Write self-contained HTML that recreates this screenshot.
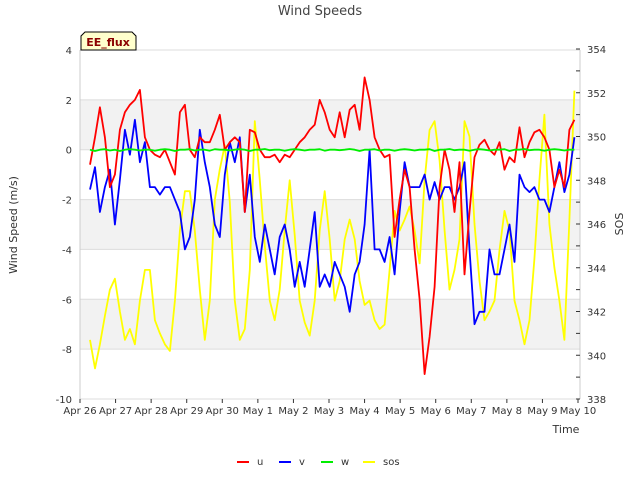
<!DOCTYPE html>
<html><head><meta charset="utf-8"><style>
body{margin:0;background:#fff;font-family:"Liberation Sans","DejaVu Sans",sans-serif;}
</style></head><body>
<svg id="chart" width="640" height="480" xmlns="http://www.w3.org/2000/svg" font-family="DejaVu Sans, Liberation Sans, sans-serif">
<rect width="640" height="480" fill="#fff"/>
<g id="bands"></g>
<g id="axes"></g>
<g id="series"></g>
<text x="320" y="15" text-anchor="middle" font-size="13" fill="#444">Wind Speeds</text>
<text transform="translate(17,225) rotate(-90)" text-anchor="middle" font-size="11" fill="#333">Wind Speed (m/s)</text>
<text transform="translate(623,224) rotate(-90)" text-anchor="middle" font-size="11" fill="#333">SOS</text>
<text x="566" y="433" text-anchor="middle" font-size="11" fill="#333">Time</text>
<g>
<path d="M81,50 L81,36 L85,32 L132,32 L136,36 L136,50 Z" fill="#ffffcc" stroke="#000" stroke-width="1"/>
<text x="108" y="46" text-anchor="middle" font-size="11" font-weight="bold" fill="#8b0000">EE_flux</text>
</g>
<g id="legend"></g>
</svg>
<script>
const dayLabels=["Apr 26","Apr 27","Apr 28","Apr 29","Apr 30","May 1","May 2","May 3","May 4","May 5","May 6","May 7","May 8","May 9","May 10"];
const leftTicks=[4,2,0,-2,-4,-6,-8,-10];
const rightTicks=[338,340,342,344,346,348,350,352,354];
const tStart=0.28, tStep=0.1404;
const uVals=[-0.6,0.5,1.7,0.5,-1.5,-1.0,0.8,1.5,1.8,2.0,2.4,0.5,0.0,-0.2,-0.3,0.0,-0.5,-1.0,1.5,1.8,0.0,-0.3,0.5,0.3,0.3,0.8,1.4,0.0,0.3,0.5,0.3,-2.5,0.8,0.7,0.0,-0.3,-0.3,-0.2,-0.5,-0.2,-0.3,0.0,0.3,0.5,0.8,1.0,2.0,1.5,0.8,0.5,1.5,0.5,1.6,1.8,0.8,2.9,2.0,0.5,0.0,-0.3,-0.2,-3.5,-2.0,-0.8,-1.5,-4.0,-6.0,-9.0,-7.5,-5.5,-1.5,0.0,-0.8,-2.5,-0.5,-5.0,-2.5,-0.3,0.2,0.4,0.0,-0.2,0.3,-0.8,-0.3,-0.5,0.9,-0.3,0.3,0.7,0.8,0.5,0.0,-1.5,-0.8,-1.5,0.8,1.2];
const vVals=[-1.6,-0.7,-2.5,-1.5,-0.8,-3.0,-1.2,0.8,-0.2,1.2,-0.5,0.3,-1.5,-1.5,-1.8,-1.5,-1.5,-2.0,-2.5,-4.0,-3.5,-2.0,0.8,-0.5,-1.5,-3.0,-3.5,-1.0,0.3,-0.5,0.5,-2.5,-1.0,-3.5,-4.5,-3.0,-4.0,-5.0,-3.5,-3.0,-4.0,-5.5,-4.5,-5.5,-4.0,-2.5,-5.5,-5.0,-5.5,-4.5,-5.0,-5.5,-6.5,-5.0,-4.5,-3.0,0.0,-4.0,-4.0,-4.5,-3.5,-5.0,-2.5,-0.5,-1.5,-1.5,-1.5,-1.0,-2.0,-1.3,-2.0,-1.5,-1.5,-2.0,-1.5,-0.5,-4.0,-7.0,-6.5,-6.5,-4.0,-5.0,-5.0,-4.0,-3.0,-4.5,-1.0,-1.5,-1.7,-1.5,-2.0,-2.0,-2.5,-1.5,-0.5,-1.7,-1.0,0.5];
const wVals=[0,-0.05,0,0.02,-0.03,0,-0.05,0,0.02,0,-0.03,0,0,-0.04,0,0.02,0,-0.05,0,0,0.02,-0.03,0,0,-0.04,0.02,0,0,-0.03,0,0.02,0,-0.05,0,0,0.03,-0.02,0,0,-0.04,0,0.02,0,-0.03,0,0,0.02,-0.04,0,0,-0.02,0,0.03,0,-0.05,0,0,0.02,-0.03,0,0,-0.04,0,0.02,0,-0.03,0,0,0.02,-0.05,0,0,0.03,-0.02,0,0,-0.04,0,0.02,0,-0.03,0,0,0.02,-0.05,0,0,0.03,-0.02,0,0,-0.04,0,0.02,0,-0.03,0,0];
const sosVals=[340.7,339.4,340.5,341.8,343.0,343.5,342.0,340.7,341.2,340.5,342.5,343.9,343.9,341.6,341.0,340.5,340.2,342.5,345.7,347.5,347.5,345.7,343.0,340.7,342.5,347.1,348.5,349.6,347.0,342.5,340.7,341.2,343.9,350.7,348.0,345.0,342.5,341.6,343.0,345.7,348.0,345.5,342.5,341.5,340.9,342.5,345.7,347.5,345.3,342.5,343.4,345.3,346.2,345.3,343.4,342.3,342.5,341.6,341.2,341.4,343.9,346.6,345.7,346.2,346.8,345.7,344.2,348.0,350.3,350.7,348.9,345.7,343.0,343.9,345.3,350.7,350.0,346.0,343.4,341.6,342.0,342.5,344.8,346.6,345.7,342.5,341.6,340.5,341.6,344.4,348.0,351.0,346.0,344.0,342.5,340.7,346.2,352.1];

const NS="http://www.w3.org/2000/svg";
const X0=80,X1=578,Y0=50,Y1=399;
const xs=t=>X0+(X1-X0)*t/14;
const yL=v=>Y0+(4-v)*(Y1-Y0)/14;
const yR=v=>49+(354-v)*(399-49)/16;
function mk(tag,attrs,parent){const e=document.createElementNS(NS,tag);for(const k in attrs)e.setAttribute(k,attrs[k]);parent.appendChild(e);return e;}
const bands=document.getElementById('bands'),axes=document.getElementById('axes'),series=document.getElementById('series'),legend=document.getElementById('legend');
mk('rect',{x:X0,y:Y0,width:X1-X0+2,height:Y1-Y0,fill:'#fff'},bands);
[[2,0],[-2,-4],[-6,-8]].forEach(b=>{const r=mk('rect',{x:X0,y:yL(b[0]),width:X1-X0+2,height:yL(b[1])-yL(b[0]),fill:'#f2f2f2'},bands);

});
leftTicks.forEach(v=>{mk('line',{x1:X0,x2:X1+2,y1:yL(v),y2:yL(v),stroke:'#dcdcdc','stroke-width':1},bands);
const t=mk('text',{x:X0-8,y:yL(v)+4,'text-anchor':'end','font-size':10,fill:'#333'},axes);t.textContent=v;

});
mk('line',{x1:X0,x2:X0,y1:Y0,y2:Y1,stroke:'#ccc'},axes);
mk('line',{x1:X1+2,x2:X1+2,y1:Y0,y2:Y1,stroke:'#ccc'},axes);
for(let v=338;v<=354;v++){mk('line',{x1:X1-2,x2:X1+2,y1:yR(v),y2:yR(v),stroke:'#333'},axes);}
rightTicks.forEach(v=>{const t=mk('text',{x:X1+9,y:yR(v)+4,'font-size':10,fill:'#333'},axes);t.textContent=v;

});
dayLabels.forEach((d,i)=>{mk('line',{x1:xs(i),x2:xs(i),y1:Y1,y2:Y1+4,stroke:'#333'},axes);
const t=mk('text',{x:xs(i),y:Y1+15,'text-anchor':'middle','font-size':10,fill:'#333'},axes);t.textContent=d;

});
function line(vals,yf,color,name){const pts=vals.map((v,i)=>xs(tStart+i*tStep).toFixed(1)+','+yf(v).toFixed(1)).join(' ');
const p=mk('polyline',{points:pts,fill:'none',stroke:color,'stroke-width':1.8,'stroke-linejoin':'round'},series);

}
line(sosVals,yR,'#ffff00','sos-line');
line(vVals,yL,'#0000ff','v-line');
line(uVals,yL,'#ff0000','u-line');
line(wVals,yL,'#00ee00','w-line');
[['u','#ff0000',237],['v','#0000ff',279],['w','#00ee00',321],['sos','#ffff00',363]].forEach(e=>{
const g=mk('g',{},legend);


mk('line',{x1:e[2],x2:e[2]+12,y1:462,y2:462,stroke:e[1],'stroke-width':2},g);
const t=mk('text',{x:e[2]+20,y:465,'font-size':10,fill:'#333'},g);t.textContent=e[0];});
</script>
</body></html>
